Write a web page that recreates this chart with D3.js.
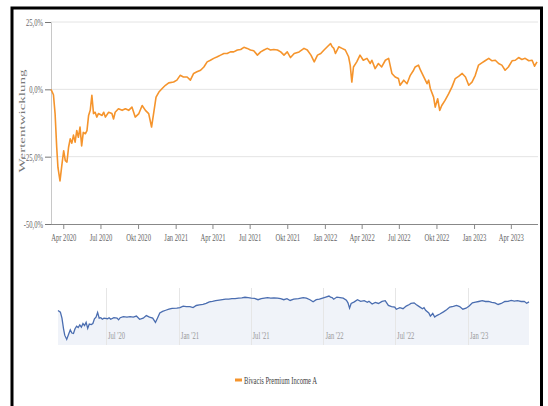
<!DOCTYPE html>
<html><head><meta charset="utf-8">
<script src="https://cdn.jsdelivr.net/npm/d3@7"></script>
<style>
html,body{margin:0;padding:0;background:#fff;}
svg{display:block;font-family:"Liberation Serif","Times New Roman",serif;}
</style></head>
<body><svg id="c" width="548" height="406"></svg>
<script>
const seriesName = "Bivacis Premium Income A";
const dates = ["2020-03-02","2020-03-08","2020-03-12","2020-03-16","2020-03-19","2020-03-24","2020-03-29","2020-04-02","2020-04-06","2020-04-10","2020-04-14","2020-04-18","2020-04-22","2020-04-26","2020-04-30","2020-05-04","2020-05-08","2020-05-12","2020-05-16","2020-05-20","2020-05-25","2020-05-29","2020-06-02","2020-06-06","2020-06-10","2020-06-14","2020-06-18","2020-06-22","2020-06-26","2020-07-05","2020-07-09","2020-07-13","2020-07-21","2020-07-29","2020-08-02","2020-08-06","2020-08-14","2020-08-23","2020-08-31","2020-09-08","2020-09-16","2020-09-24","2020-10-03","2020-10-11","2020-10-19","2020-10-27","2020-11-03","2020-11-08","2020-11-14","2020-11-21","2020-11-29","2020-12-07","2020-12-15","2020-12-27","2021-01-04","2021-01-12","2021-01-20","2021-01-29","2021-02-06","2021-02-14","2021-02-22","2021-03-03","2021-03-11","2021-03-19","2021-03-27","2021-04-04","2021-04-13","2021-04-21","2021-04-29","2021-05-07","2021-05-15","2021-05-23","2021-06-01","2021-06-09","2021-06-17","2021-06-25","2021-07-03","2021-07-11","2021-07-20","2021-07-28","2021-08-05","2021-08-13","2021-08-21","2021-08-29","2021-09-07","2021-09-15","2021-09-23","2021-10-01","2021-10-09","2021-10-18","2021-10-30","2021-11-11","2021-11-19","2021-11-28","2021-12-06","2021-12-14","2021-12-22","2021-12-30","2022-01-07","2022-01-15","2022-01-19","2022-01-23","2022-01-27","2022-02-04","2022-02-12","2022-02-20","2022-02-28","2022-03-04","2022-03-08","2022-03-12","2022-03-20","2022-03-28","2022-04-05","2022-04-14","2022-04-22","2022-04-26","2022-05-04","2022-05-12","2022-05-20","2022-05-29","2022-06-06","2022-06-14","2022-06-22","2022-06-30","2022-07-04","2022-07-13","2022-07-21","2022-07-29","2022-08-06","2022-08-10","2022-08-18","2022-08-23","2022-08-31","2022-09-08","2022-09-12","2022-09-16","2022-09-24","2022-09-28","2022-10-04","2022-10-09","2022-10-14","2022-10-22","2022-10-31","2022-11-08","2022-11-16","2022-11-25","2022-12-03","2022-12-11","2022-12-19","2022-12-27","2023-01-04","2023-01-12","2023-01-20","2023-01-28","2023-02-06","2023-02-14","2023-02-22","2023-03-02","2023-03-10","2023-03-18","2023-03-26","2023-04-04","2023-04-12","2023-04-20","2023-04-28","2023-05-06","2023-05-15","2023-05-23","2023-05-29","2023-06-04"];
const values = [0,-2,-9,-21.6,-29,-34,-27.6,-22.8,-26.5,-27,-21.5,-18.4,-20,-17,-19.6,-15.3,-17.8,-14,-21,-16,-16.5,-15.3,-9.7,-7.8,-2.2,-9,-8.5,-10.3,-9,-9.7,-8.5,-10.3,-8.5,-9,-11,-8.5,-7.2,-7.8,-7.2,-7.8,-6.6,-10.3,-9,-6,-7.8,-9,-14,-9,-2.9,-1,0.3,1.5,2.4,2.7,3.4,5.2,4.6,4.6,3.4,5.9,6.5,7.1,8.3,10.2,10.8,11.5,12.1,12.7,13.3,13.3,13.9,13.9,14.6,14.8,15.6,15.2,14.6,14.3,12.7,13.9,14.6,15.2,14.6,14.8,14.6,13.9,12.7,13.9,11.8,13.3,13.9,15.2,14.6,12.7,10.2,12.7,13.3,14.6,15.8,17.0,15.8,15.2,13.3,15.8,15.2,14.6,12.1,9.0,2.7,8.3,10.2,12.7,10.8,11.5,9.6,10.8,7.7,9.6,8.3,10.8,11.5,5.9,4.6,4.0,1.5,3.4,2.1,5.2,7.1,8.3,9.0,7.1,4.6,2.1,3.4,0.3,-2.9,-6.6,-3.5,-7.8,-6,-4.1,-1.6,0.9,4.0,4.9,5.9,4.6,1.5,2.7,5.2,9.0,9.8,10.6,11.5,10.6,10.8,9.6,9.0,7.1,8.3,10.6,10.8,11.8,11.1,11.5,10.6,10.8,8.6,10.2];
const yTicks = [25,0,-25,-50];
const yTickLabels = ["25,0%","0,0%","-25,0%","-50,0%"];
const xTickDates = ["2020-04-01","2020-07-01","2020-10-01","2021-01-01","2021-04-01","2021-07-01","2021-10-01","2022-01-01","2022-04-01","2022-07-01","2022-10-01","2023-01-01","2023-04-01"];
const xTickLabels = ["Apr 2020","Jul 2020","Okt 2020","Jan 2021","Apr 2021","Jul 2021","Okt 2021","Jan 2022","Apr 2022","Jul 2022","Okt 2022","Jan 2023","Apr 2023"];
const navTickDates = ["2020-07-01","2021-01-01","2021-07-01","2022-01-01","2022-07-01","2023-01-01"];
const navTickLabels = ["Jul '20","Jan '21","Jul '21","Jan '22","Jul '22","Jan '23"];
const yTitle = "Wertentwicklung";

const parse = d3.timeParse("%Y-%m-%d");
const data = dates.map((d,i)=>({date:parse(d), v:values[i]}));
const svg = d3.select("#c");
const SX = 0.6; // horizontal squeeze of text

// frame
svg.append("rect").attr("x",12).attr("y",8).attr("width",529.5).attr("height",430)
  .attr("fill","none").attr("stroke","#000").attr("stroke-width",3);

const x = d3.scaleTime().domain(d3.extent(data,d=>d.date)).range([51,537]);
const y = d3.scaleLinear().domain([-50,25]).range([224,22]);

// gridlines
svg.append("g").selectAll("line").data(yTicks.filter(t=>t>-50)).join("line")
  .attr("x1",51).attr("x2",538).attr("y1",d=>y(d)).attr("y2",d=>y(d))
  .attr("stroke","#e4e4e4").attr("stroke-width",1);

// y axis
const ya = svg.append("g").attr("transform","translate(51,0)")
  .call(d3.axisLeft(y).tickValues(yTicks).tickSize(6).tickFormat((d,i)=>yTickLabels[i]));
ya.select(".domain").attr("stroke","#c8c8c8");
ya.selectAll(".tick line").attr("stroke","#777");
ya.selectAll(".tick text").attr("fill","#666").attr("font-size",11)
  .attr("font-family","Liberation Serif").attr("x",-8/SX).attr("transform",`scale(${SX},1)`);

// x axis
const xa = svg.append("g").attr("transform","translate(0,224)")
  .call(d3.axisBottom(x).tickValues(xTickDates.map(parse)).tickSize(5).tickPadding(4)
    .tickFormat((d,i)=>xTickLabels[i]));
xa.select(".domain").attr("stroke","#888").attr("d","M51,0.5H538");
xa.selectAll(".tick line").attr("stroke","#888");
xa.selectAll(".tick text").attr("fill","#666").attr("font-size",11)
  .attr("font-family","Liberation Serif").attr("transform",`scale(${SX},1)`);

// y title
svg.append("text").attr("transform",`translate(25,121) scale(${SX},1) rotate(-90)`)
  .attr("text-anchor","middle").attr("font-size",15).attr("fill","#777")
  .attr("font-family","Liberation Serif").text(yTitle);

// main line
svg.append("path").datum(data).attr("fill","none").attr("stroke","#f5942c")
  .attr("stroke-width",1.6).attr("stroke-linejoin","round")
  .attr("d",d3.line().x(d=>x(d.date)).y(d=>y(d.v)));

// navigator
const nx = d3.scaleTime().domain(d3.extent(data,d=>d.date)).range([58,529]);
const ny = d3.scaleLinear().domain([-40,20]).range([344.5,293.5]);
svg.append("path").datum(data).attr("fill","#f0f3f9")
  .attr("d",d3.area().x(d=>nx(d.date)).y0(345).y1(d=>ny(d.v)));
const ng = svg.append("g");
navTickDates.map(parse).forEach((d,i)=>{
  ng.append("line").attr("x1",Math.round(nx(d))+0.5).attr("x2",Math.round(nx(d))+0.5)
    .attr("y1",288).attr("y2",345).attr("stroke","#e6e6e6");
  ng.append("text").attr("transform",`translate(${nx(d)+2},339) scale(${SX},1)`)
    .attr("font-size",11).attr("fill","#999").attr("font-family","Liberation Serif")
    .text(navTickLabels[i]);
});
svg.append("path").datum(data).attr("fill","none").attr("stroke","#4a6db0")
  .attr("stroke-width",1.3)
  .attr("d",d3.line().x(d=>nx(d.date)).y(d=>ny(d.v)));

// legend
svg.append("line").attr("x1",235).attr("x2",242).attr("y1",380).attr("y2",380)
  .attr("stroke","#f5942c").attr("stroke-width",3);
svg.append("text").attr("transform",`translate(244,384) scale(${SX},1)`)
  .attr("font-size",11).attr("fill","#444").attr("font-family","Liberation Serif")
  .text(seriesName);
</script></body></html>
